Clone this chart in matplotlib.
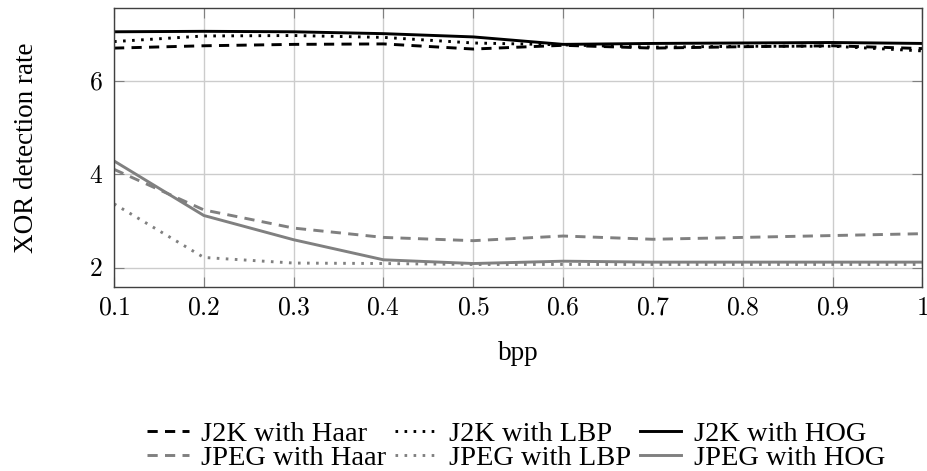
import numpy as np
import matplotlib
matplotlib.use("Agg")
import matplotlib.pyplot as plt

# ------------------------
# Data
# ------------------------
bpp = [0.1, 0.2, 0.3, 0.4, 0.5, 0.6, 0.7, 0.8, 0.9, 1.0]

j2k_haar = [6.71, 6.76, 6.79, 6.80, 6.69, 6.77, 6.71, 6.74, 6.76, 6.70]
j2k_lbp  = [6.85, 6.97, 6.98, 6.94, 6.82, 6.78, 6.73, 6.75, 6.75, 6.65]
j2k_hog  = [7.06, 7.07, 7.06, 7.02, 6.95, 6.79, 6.81, 6.82, 6.83, 6.81]

jpeg_haar = [4.11, 3.24, 2.85, 2.65, 2.58, 2.68, 2.61, 2.65, 2.69, 2.73]
jpeg_lbp  = [3.37, 2.22, 2.10, 2.09, 2.07, 2.07, 2.07, 2.07, 2.07, 2.07]
jpeg_hog  = [4.29, 3.12, 2.60, 2.17, 2.09, 2.14, 2.12, 2.12, 2.12, 2.12]

labels = ["J2K with Haar", "J2K with LBP", "J2K with HOG",
          "JPEG with Haar", "JPEG with LBP", "JPEG with HOG"]

xticks = [0.1, 0.2, 0.3, 0.4, 0.5, 0.6, 0.7, 0.8, 0.9, 1.0]
yticks = [2, 4, 6]

# ------------------------
# Style
# ------------------------
plt.rcParams['font.family'] = ['Liberation Serif', 'DejaVu Serif']
plt.rcParams['mathtext.fontset'] = 'cm'

gray = '#808080'
dash = (0, (3.5, 2.5))
dot = (0, (0.9, 2.2))

fig = plt.figure(figsize=(9.27, 4.71), dpi=100)
ax = fig.add_axes([0.123, 0.391, 0.872, 0.592])

series = [
    (j2k_haar, 'black', dash),
    (j2k_lbp, 'black', dot),
    (j2k_hog, 'black', '-'),
    (jpeg_haar, gray, dash),
    (jpeg_lbp, gray, dot),
    (jpeg_hog, gray, '-'),
]
handles = []
for (vals, col, ls), lab in zip(series, labels):
    h, = ax.plot(bpp, vals, color=col, linestyle=ls, linewidth=2.1, label=lab)
    handles.append(h)

ax.set_xlim(0.1, 1.0)
ax.set_ylim(1.59, 7.57)
ax.set_xticks(xticks)
ax.set_yticks(yticks)
ax.set_xticklabels([f"${v:g}$" for v in xticks])
ax.set_yticklabels([f"${v:g}$" for v in yticks])
ax.tick_params(direction='in', top=True, right=True, length=7,
               color='#808080', labelsize=18.5, pad=8)
ax.grid(True, color='#cccccc', linewidth=1.0)
ax.set_axisbelow(True)
for s in ax.spines.values():
    s.set_color('#404040')
    s.set_linewidth(1.0)

ax.set_xlabel("bpp", fontsize=19.5, labelpad=15)
ax.set_ylabel("XOR detection rate", fontsize=19.5, labelpad=36)

# legend is filled column-wise, so reorder to get rows J2K / JPEG
order = [0, 3, 1, 4, 2, 5]
fig.legend(handles=[handles[i] for i in order],
           labels=[labels[i] for i in order], ncol=3, loc='center',
           bbox_to_anchor=(0.557, 0.053), frameon=False, fontsize=20.5,
           handlelength=1.45, columnspacing=0.3, handletextpad=0.45,
           labelspacing=-0.08, borderpad=0)

fig.savefig("out.png", dpi=100)
